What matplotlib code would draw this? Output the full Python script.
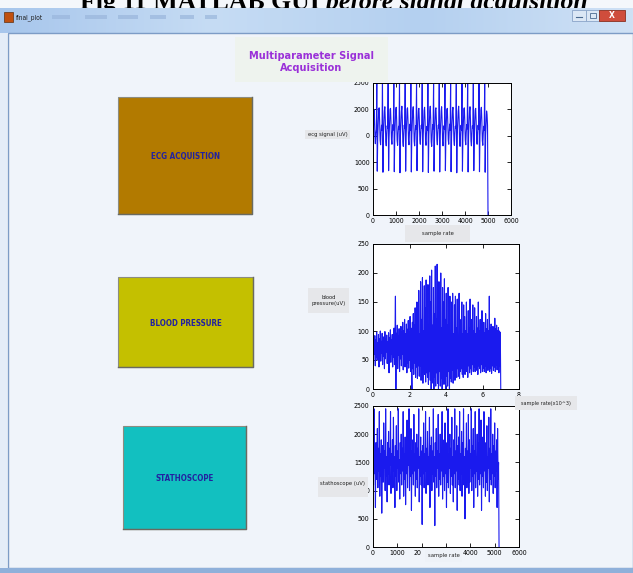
import numpy as np
import matplotlib
matplotlib.use("Agg")
import matplotlib.pyplot as plt
from matplotlib.patches import Rectangle
from matplotlib.colors import LinearSegmentedColormap

W, H = 633, 573
NARROW = dict(family=['DejaVu Sans'], stretch='condensed')

# ---------------- data ----------------
ecg_uV = [
    900, 1700, 2000, 1850, 1500, 1350, 1550,
    1620, 2490, 830, 1480, 1760, 1990, 2030, 1780, 1420, 1330, 1560, 1700,
    1600, 2500, 810, 1500, 1740, 1970, 2050, 1800, 1400, 1310, 1540, 1690,
    1640, 2480, 840, 1470, 1770, 2000, 2020, 1760, 1430, 1340, 1570, 1710,
    1610, 2500, 820, 1490, 1750, 1980, 2040, 1790, 1410, 1320, 1550, 1680,
    1630, 2490, 800, 1510, 1730, 1960, 2060, 1810, 1390, 1300, 1530, 1700,
    1650, 2500, 830, 1480, 1760, 2010, 2030, 1770, 1420, 1330, 1560, 1720,
    1600, 2480, 815, 1500, 1740, 1970, 2050, 1800, 1400, 1310, 1540, 1690,
    1620, 2500, 840, 1470, 1770, 1990, 2020, 1760, 1430, 1340, 1570, 1700,
    1640, 2490, 820, 1490, 1750, 1980, 2040, 1790, 1410, 1320, 1550, 1680,
    1610, 2500, 805, 1510, 1730, 1960, 2060, 1810, 1390, 1300, 1530, 1710,
    1630, 2480, 830, 1480, 1760, 2000, 2030, 1770, 1420, 1330, 1560, 1700,
    1650, 2500, 815, 1500, 1740, 1970, 2050, 1800, 1400, 1310, 1540, 1690,
    1620, 2490, 840, 1470, 1770, 1990, 2020, 1760, 1430, 1340, 1570, 1720,
    1600, 2500, 820, 1490, 1750, 1980, 2040, 1790, 1410, 1320, 1550, 1680,
    1640, 2480, 800, 1510, 1730, 1960, 2060, 1810, 1390, 1300, 1530, 1700,
    1610, 2500, 830, 1480, 1760, 2010, 2030, 1770, 1420, 1330, 1560, 1710,
    1630, 2490, 815, 1500, 1740, 1970, 2050, 1800, 1400, 1310, 1540, 1690,
    1650, 2500, 840, 1470, 1770, 1990, 2020, 1760, 1430, 1340, 1570, 1700,
    1620, 2480, 820, 1490, 1750, 1980, 2040, 1790, 1410, 1320, 1550, 1680,
    1600, 2500, 810, 1500, 1740, 1970, 1900, 1700, 0,
]
ecg_last_sample = 5000

bp_uV = [
    95, 45, 88, 60, 92, 40, 85, 55, 98, 50, 80, 65, 94, 38, 87, 58, 100, 48, 82, 62,
    96, 42, 90, 56, 84, 35, 99, 52, 86, 64, 93, 44, 81, 57, 97, 28, 89, 50, 102, 46,
    85, 60, 94, 38, 90, 55, 105, 42, 88, 160, 0, 96, 48, 110, 35, 92, 58, 104, 30, 95,
    52, 108, 40, 98, 60, 115, 33, 100, 48, 120, 38, 95, 55, 112, 28, 103, 45, 118, 36, 99,
    50, 125, 30, 105, 42, 0, 115, 35, 130, 25, 110, 45, 140, 20, 100, 38, 150, 18, 108, 40,
    170, 22, 95, 40, 185, 15, 120, 35, 192, 10, 100, 30, 178, 25, 140, 12, 188, 28, 105, 20,
    180, 8, 62, 30, 195, 15, 150, 0, 205, 25, 110, 10, 175, 0, 130, 20, 212, 5, 120, 28,
    215, 10, 165, 0, 185, 30, 140, 5, 200, 18, 105, 0, 175, 25, 150, 8, 190, 15, 120, 0,
    165, 22, 110, 5, 175, 30, 135, 0, 160, 18, 100, 12, 150, 32, 165, 10, 95, 25, 145, 15,
    160, 28, 105, 20, 155, 35, 90, 22, 165, 18, 120, 30, 100, 35, 150, 25, 95, 20, 145, 30,
    125, 25, 100, 38, 150, 30, 95, 20, 135, 40, 105, 28, 155, 35, 98, 25, 120, 42, 145, 30,
    100, 38, 140, 30, 95, 42, 125, 32, 105, 25, 150, 40, 100, 35, 120, 28, 98, 42, 135, 30,
    102, 36, 115, 30, 97, 40, 130, 28, 104, 42, 120, 32, 100, 38, 160, 30, 105, 35, 112, 27,
    103, 40, 108, 32, 99, 38, 122, 30, 104, 42, 110, 33, 101, 37, 106, 28, 100, 40, 98, 0,
]
bp_last_sample_k = 7.0

steth_uV = [
    1800, 1100, 2450, 1300, 1700, 700, 1850, 1200, 1600, 2100, 1050, 1750, 1350, 2400, 900, 1650, 1250, 1900, 600, 1500,
    1800, 1150, 2200, 1400, 1700, 1000, 2450, 1250, 1600, 800, 1850, 1300, 2050, 1100, 1750, 1450, 2400, 950, 1650, 1200,
    1900, 1050, 2300, 1350, 1600, 700, 1800, 1250, 2150, 1000, 1700, 1400, 2450, 1150, 1550, 850, 1850, 1300, 2000, 1100,
    1750, 1350, 2400, 900, 1650, 1200, 1950, 750, 1700, 1300, 2250, 1050, 1600, 1450, 2450, 1000, 1800, 1250, 2100, 650,
    1700, 1300, 1900, 1100, 2350, 1350, 1650, 900, 1850, 1200, 2000, 1050, 1750, 1400, 2450, 800, 1600, 1250, 1950, 1100,
    1700, 400, 1800, 1300, 2200, 1050, 1650, 1350, 2400, 950, 1750, 1200, 2050, 1100, 1600, 1400, 2300, 700, 1800, 1250,
    1950, 1000, 1700, 1300, 2450, 1150, 1600, 380, 1850, 1250, 2100, 1050, 1700, 1400, 2350, 900, 1650, 1200, 2000, 1100,
    1750, 1350, 2400, 850, 1600, 1250, 1900, 1000, 2200, 1300, 1700, 700, 1850, 1150, 2450, 1050, 1650, 1400, 2000, 950,
    1750, 1250, 2300, 1100, 1600, 800, 1900, 1300, 2450, 1050, 1700, 1350, 2150, 650, 1800, 1200, 1950, 1100, 2400, 1000,
    1650, 1300, 2050, 900, 1850, 1250, 2450, 1100, 1600, 500, 1750, 1350, 2200, 1050, 1700, 1200, 2350, 950, 1900, 1150,
    1650, 1400, 2450, 1000, 1800, 1250, 2100, 700, 1700, 1300, 2400, 1050, 1600, 1350, 2000, 900, 1850, 1200, 2450, 1100,
    1750, 1300, 2250, 650, 1650, 1250, 1950, 1050, 2400, 1350, 1700, 900, 1850, 1150, 2150, 1000, 1600, 1400, 2300, 800,
    1750, 1200, 2450, 1100, 1650, 1300, 2000, 950, 1800, 1250, 2200, 1050, 1700, 1350, 1900, 700, 2100, 1200, 1500, 0,
]
steth_last_sample = 5180

ecg_yticks = [0, 500, 1000, 1500, 2000, 2500]
ecg_yticklabels = ['0', '500', '1000', '0', '2000', '2500']
ecg_xticks = [0, 1000, 2000, 3000, 4000, 5000, 6000]
ecg_xticklabels = ['0', '1000', '2000', '3000', '4000', '5000', '6000']
bp_yticks = [0, 50, 100, 150, 200, 250]
bp_xticks = [0, 2, 4, 6, 8]
bp_xticklabels = ['0', '2', '4', '6', '8']
st_yticks = [0, 500, 1000, 1500, 2000, 2500]
st_yticklabels = ['0', '500', '0', '1500', '2000', '2500']
st_xticks = [0, 1000, 2000, 3000, 4000, 5000, 6000]
st_xticklabels = ['0', '1000', '20', '', '4000', '5000', '6000']

buttons = ['ECG ACQUISTION', 'BLOOD PRESSURE', 'STATHOSCOPE']
button_colors = ['#b27a00', '#c4c000', '#12c0c0']
title_lines = 'Multiparameter Signal\nAcquisition'
caption_plain = 'Fig 11 MATLAB GUI '
caption_italic = 'before signal acquisition'

# ---------------- figure ----------------
fig = plt.figure(figsize=(W / 100, H / 100), dpi=100)
fig.patch.set_facecolor('#f4f7fb')

def px_rect(x0, y0, x1, y1):
    return [x0 / W, 1 - y1 / H, (x1 - x0) / W, (y1 - y0) / H]

bg = fig.add_axes([0, 0, 1, 1], zorder=0)
bg.set_xlim(0, W); bg.set_ylim(H, 0); bg.axis('off')

# caption above the screenshot (cut by the top edge and the title bar)
SERIF = ['Liberation Serif', 'DejaVu Serif']
bg.text(326, 9, caption_plain, family=SERIF, weight='bold', fontsize=18.5,
        ha='right', va='baseline', color='black', zorder=1)
bg.text(326, 9, caption_italic, family=SERIF, weight='bold', style='italic', fontsize=18.5,
        ha='left', va='baseline', color='black', zorder=1)

# title bar (gradient)
grad = np.linspace(0, 1, 256).reshape(1, -1)
cm = LinearSegmentedColormap.from_list('tb', ['#a7c6ec', '#c6dcf4', '#b4d0f0', '#cfe1f5'])
bg.imshow(grad, extent=[0, W, 33, 8], aspect='auto', cmap=cm, zorder=2)
# window content
bg.add_patch(Rectangle((8, 33), W - 8, 535, facecolor='#f0f4fa', edgecolor='#7d9cc6', lw=1.0, zorder=2))
bg.add_patch(Rectangle((0, 568), W, 5, facecolor='#8fb0da', edgecolor='none', zorder=2))
bg.add_patch(Rectangle((0, 33), 7, 535, facecolor='#e4edf8', edgecolor='none', zorder=2))
# icon and title bar text
bg.add_patch(Rectangle((4, 12), 9, 10, facecolor='#c05010', edgecolor='#603010', lw=0.5, zorder=3))
bg.text(16, 17.5, 'final_plot', fontsize=4.8, va='center', ha='left', color='#202020', zorder=3, **NARROW)
for mx, mw in [(52, 18), (85, 22), (118, 20), (150, 16), (180, 14), (205, 12)]:
    bg.add_patch(Rectangle((mx, 15), mw, 4, facecolor='#9ab6dc', edgecolor='none', alpha=0.7, zorder=3))
# window control buttons
bg.add_patch(Rectangle((572, 10), 14, 11, facecolor='#dbe7f5', edgecolor='#8aa4c8', lw=0.6, zorder=3))
bg.add_patch(Rectangle((586, 10), 13, 11, facecolor='#dbe7f5', edgecolor='#8aa4c8', lw=0.6, zorder=3))
bg.add_patch(Rectangle((599, 10), 26, 11, facecolor='#cf4d3c', edgecolor='#8a3020', lw=0.6, zorder=3))
bg.text(612, 15.5, 'X', fontsize=5.5, color='white', weight='bold', ha='center', va='center', zorder=4)
bg.plot([576, 582], [17, 17], color='#4a6a90', lw=0.8, zorder=4)
bg.add_patch(Rectangle((589.5, 13), 6, 5, facecolor='none', edgecolor='#4a6a90', lw=0.6, zorder=4))

# push buttons
btn_boxes = [(118, 97, 252, 214), (118, 277, 253, 367), (123, 426, 246, 529)]
for (x0, y0, x1, y1), lab, col in zip(btn_boxes, buttons, button_colors):
    bg.add_patch(Rectangle((x0, y0), x1 - x0, y1 - y0, facecolor=col, edgecolor='#8c8c80', lw=0.8, zorder=3))
    bg.plot([x0, x1, x1], [y1, y1, y0], color='#6a6a60', lw=1.0, zorder=4)
    bg.text((x0 + x1) / 2 + 0.5, (y0 + y1) / 2 + 1, lab, weight='bold', fontsize=5.8,
            color='#2222a0', ha='center', va='center', zorder=5, **NARROW)

# ---------------- signal axes ----------------
LINE = dict(color='#1a1aee', lw=0.8)

def style(ax):
    ax.set_facecolor('white')
    ax.tick_params(direction='in', length=3, width=0.6, top=True, right=True,
                   labelsize=5.0, pad=2.5, colors='black')
    for lbl in ax.get_xticklabels() + ax.get_yticklabels():
        lbl.set_family(NARROW['family'])
        lbl.set_fontstretch('condensed')
    for s in ax.spines.values():
        s.set_linewidth(0.7)

ax1 = fig.add_axes(px_rect(373, 83, 511, 215), zorder=2)
x1 = np.linspace(0, ecg_last_sample, len(ecg_uV))
ax1.plot(x1, ecg_uV, **LINE)
ax1.set_xlim(0, 6000); ax1.set_ylim(0, 2500)
ax1.set_xticks(ecg_xticks); ax1.set_xticklabels(ecg_xticklabels)
ax1.set_yticks(ecg_yticks); ax1.set_yticklabels(ecg_yticklabels)
style(ax1)

ax2 = fig.add_axes(px_rect(373, 244, 519, 389), zorder=2)
x2 = np.linspace(0, bp_last_sample_k, len(bp_uV))
ax2.plot(x2, bp_uV, **LINE)
ax2.set_xlim(0, 8); ax2.set_ylim(0, 250)
ax2.set_xticks(bp_xticks); ax2.set_xticklabels(bp_xticklabels)
ax2.set_yticks(bp_yticks)
style(ax2)

ax3 = fig.add_axes(px_rect(373, 406, 519, 547), zorder=2)
x3 = np.linspace(0, steth_last_sample, len(steth_uV))
ax3.plot(x3, steth_uV, **LINE)
ax3.set_xlim(0, 6000); ax3.set_ylim(0, 2500)
ax3.set_xticks(st_xticks); ax3.set_xticklabels(st_xticklabels)
ax3.set_yticks(st_yticks); ax3.set_yticklabels(st_yticklabels)
style(ax3)
ax3.get_xticklabels()[2].set_horizontalalignment('right')

# ---------------- overlay text boxes (GUI static texts) ----------------
ov = fig.add_axes([0, 0, 1, 1], zorder=10)
ov.set_xlim(0, W); ov.set_ylim(H, 0); ov.axis('off'); ov.patch.set_alpha(0)

def box(x0, y0, x1, y1, text, tx=None, ty=None, fc='#e6e7ea', **kw):
    ov.add_patch(Rectangle((x0, y0), x1 - x0, y1 - y0, facecolor=fc, edgecolor='none', zorder=1))
    tx = (x0 + x1) / 2 if tx is None else tx
    ty = (y0 + y1) / 2 if ty is None else ty
    ov.text(tx, ty, text, ha='center', va='center', zorder=2, **NARROW, **kw)

box(235, 37, 388, 82, title_lines, ty=62, fc='#eef3ee', weight='bold',
    fontsize=7.8, color='#9a30d8', linespacing=1.15)
box(305, 130, 350, 139, 'ecg signal (uV)', fontsize=4.2, color='#222222')
box(405, 225, 470, 242, 'sample rate', ty=233, fontsize=4.2, color='#222222')
box(308, 288, 349, 313, 'blood\npressure(uV)', fontsize=4.2, color='#222222', linespacing=1.3)
box(515, 396, 577, 410, 'sample rate(x10^3)', ty=403, fontsize=4.0, color='#222222')
box(318, 477, 368, 497, 'stathoscope (uV)', ty=484, fontsize=4.2, color='#222222')
box(425, 550, 462, 562, 'sample rate', ty=555.5, fc='#eef2f8', fontsize=4.2, color='#222222')

fig.savefig('out.png', dpi=100)
